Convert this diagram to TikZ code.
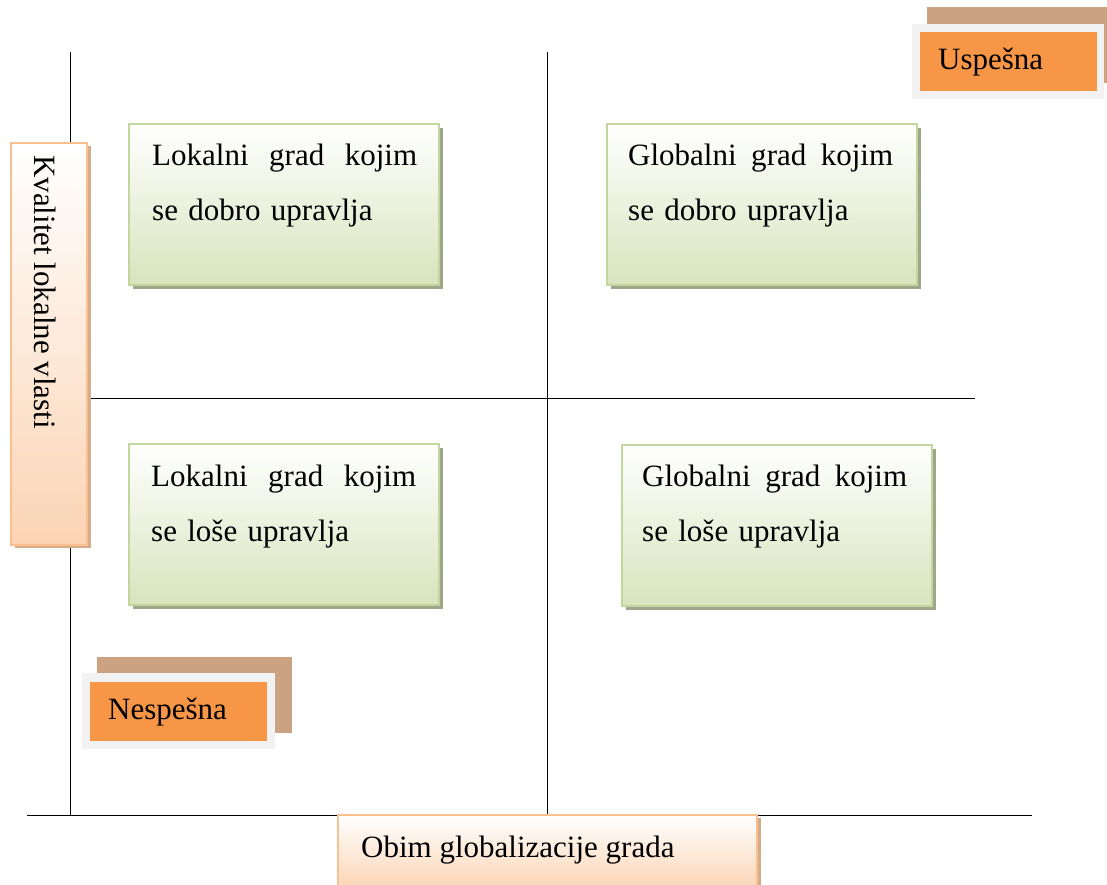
\documentclass[tikz,border=0pt]{standalone}
\usepackage{fontspec}
\setmainfont{Liberation Serif}
\usepackage{tikz}
\usetikzlibrary{positioning,calc,shadows}

\definecolor{orangefill}{HTML}{F79646}
\definecolor{brownback}{RGB}{203,163,131}
\definecolor{grayframe}{HTML}{F2F2F2}
\definecolor{peachbottom}{HTML}{FBD4B4}
\definecolor{peachdraw}{HTML}{FAC090}
\definecolor{peachshadow}{RGB}{214,172,138}
\definecolor{greenbottom}{HTML}{D7E4BD}
\definecolor{greendraw}{HTML}{C3D69B}
\definecolor{greenshadow}{RGB}{160,166,140}

\begin{document}
\begin{tikzpicture}[x=1pt,y=-1pt,
    font=\fontsize{31}{55}\selectfont,
    axis/.style={line width=1pt},
    cellbox/.style={anchor=north west,inner sep=0pt,outer sep=0pt,
      minimum width=310pt,minimum height=161pt,
      top color=white,bottom color=greenbottom,draw=greendraw,line width=1.3pt,
      drop shadow={fill=greenshadow,opacity=1,shadow xshift=3.5pt,shadow yshift=-4pt}},
    celltext/.style={anchor=base west,inner sep=0pt,text width=265pt,align=left},
    axisbox/.style={anchor=north west,inner sep=0pt,outer sep=0pt,
      top color=white,bottom color=peachbottom,draw=peachdraw,line width=1.3pt,
      drop shadow={fill=peachshadow,opacity=1,shadow xshift=3.5pt,shadow yshift=-3pt}},
    tagbox/.style={anchor=north west,fill=orangefill,inner ysep=0pt,inner xsep=18pt,
      minimum height=59pt,text width=141pt,align=left}]
  \useasboundingbox (0,0) rectangle (1107,885);

  % ose
  \draw[axis] (70,52) -- (70,815);
  \draw[axis] (547,52) -- (547,815);
  \draw[axis] (70,398) -- (975,398);
  \draw[axis] (27,815) -- (1032,815);

  % natpisi osa
  \node[axisbox,minimum width=76pt,minimum height=402pt] (kval) at (11,143) {};
  \node[rotate=-90,anchor=west,inner sep=0pt] (kvaltxt) at (45,155) {Kvalitet lokalne vlasti};
  \node[axisbox,minimum width=419pt,minimum height=75pt] (obim) at (338,815) {};
  \node[anchor=base west,inner sep=0pt] (obimtxt) at (361,857) {Obim globalizacije grada};

  % kvadranti
  \node[cellbox] (ld) at (129,124) {};
  \node[celltext] (ldtxt) at (152,166) {Lokalni\hfill grad\hfill kojim\\se dobro upravlja};
  \node[cellbox] (gd) at (607,124) {};
  \node[celltext] (gdtxt) at (628,166) {Globalni\hfill grad\hfill kojim\\se dobro upravlja};
  \node[cellbox] (ll) at (129,444) {};
  \node[celltext] (lltxt) at (151,486) {Lokalni\hfill grad\hfill kojim\\se loše upravlja};
  \node[cellbox] (gl) at (622,445) {};
  \node[celltext] (gltxt) at (642,486) {Globalni\hfill grad\hfill kojim\\se loše upravlja};

  % uspešna / nespešna
  \fill[brownback] (927,7) rectangle (1110,83);
  \fill[grayframe] (912,24) rectangle (1104,99);
  \node[tagbox] (usp) at (920,32) {Uspešna};
  \fill[brownback] (97,657) rectangle (292,733);
  \fill[grayframe] (82,673) rectangle (275,749);
  \node[tagbox] (nesp) at (90,682) {Nespešna};
\end{tikzpicture}
\end{document}
